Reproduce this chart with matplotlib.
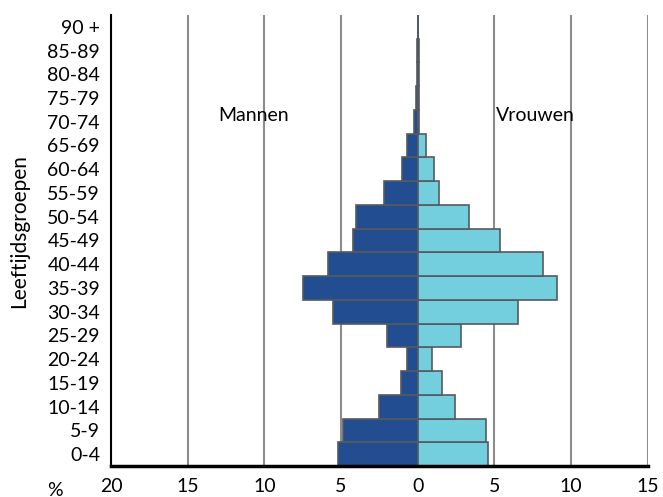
import numpy as np
import matplotlib
matplotlib.use("Agg")
import matplotlib.pyplot as plt

plt.rcParams["font.family"] = ["Lato", "DejaVu Sans"]

age_groups = ["0-4", "5-9", "10-14", "15-19", "20-24", "25-29", "30-34",
              "35-39", "40-44", "45-49", "50-54", "55-59", "60-64", "65-69",
              "70-74", "75-79", "80-84", "85-89", "90 +"]
men = [5.2, 4.9, 2.55, 1.1, 0.67, 2.0, 5.5, 7.47, 5.88, 4.23, 4.0, 2.17,
       1.02, 0.7, 0.24, 0.1, 0.05, 0.03, 0.01]
women = [4.58, 4.45, 2.45, 1.61, 0.93, 2.8, 6.53, 9.1, 8.16, 5.34, 3.32,
         1.41, 1.06, 0.54, 0.1, 0.1, 0.08, 0.1, 0.05]
xticks = [-20, -15, -10, -5, 0, 5, 10, 15]

fs = 14

fig = plt.figure(figsize=(6.63, 4.97), dpi=100)
ax = fig.add_axes([0.1674, 0.0624, 0.8096, 0.9076])

y = np.arange(len(age_groups))
ax.barh(y, [-m for m in men], height=1.0, color="#224E91",
        edgecolor="#555a60", linewidth=1.2, zorder=3)
ax.barh(y, women, height=1.0, color="#73CEDD",
        edgecolor="#555a60", linewidth=1.2, zorder=3)

ax.set_xlim(-20, 15)
ax.set_ylim(-0.5, len(age_groups) - 0.5)
ax.set_xticks(xticks)
ax.set_xticklabels([str(abs(t)) for t in xticks], fontsize=fs)
ax.set_yticks(y)
ax.set_yticklabels(age_groups, fontsize=fs)
ax.tick_params(axis="x", length=0, pad=9)
ax.tick_params(axis="y", length=0, pad=8)

ax.grid(axis="x", color="#8c8c8c", linewidth=1.5, zorder=0)
ax.spines["top"].set_visible(False)
ax.spines["right"].set_visible(False)
ax.spines["left"].set_linewidth(1.5)
ax.spines["bottom"].set_linewidth(2.5)
ax.spines["left"].set_zorder(4)
ax.spines["bottom"].set_zorder(4)

ax.set_ylabel("Leeftijdsgroepen", fontsize=15)
ax.yaxis.set_label_coords(-0.153, 0.52)
ax.text(-10.7, 14.25, "Mannen", fontsize=fs, ha="center", va="center")
ax.text(7.7, 14.25, "Vrouwen", fontsize=fs, ha="center", va="center")
fig.text(55 / 663, 1 - 490 / 497, "%", fontsize=fs, ha="center", va="center")

fig.savefig("out.png", dpi=100)
